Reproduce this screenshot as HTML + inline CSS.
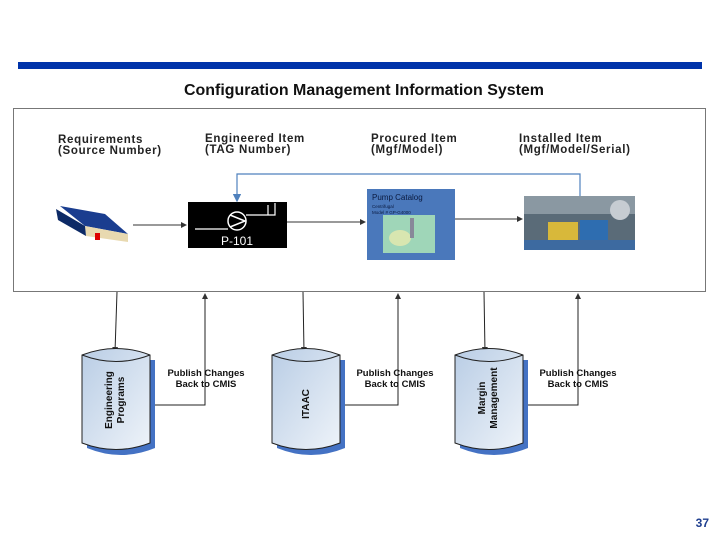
<!DOCTYPE html>
<html><head><style>
body{margin:0;width:720px;height:540px;background:#fff;overflow:hidden;font-family:"Liberation Sans",sans-serif}
</style></head><body>
<svg width="720" height="540" viewBox="0 0 720 540" xmlns="http://www.w3.org/2000/svg" font-family="Liberation Sans, sans-serif">
<defs>
<marker id="a" markerWidth="6" markerHeight="6" refX="5" refY="3" orient="auto"><path d="M0,0 L6,3 L0,6 z" fill="#333"/></marker>
<marker id="b" markerWidth="7" markerHeight="7" refX="5" refY="3.5" orient="auto"><path d="M0,0 L7,3.5 L0,7 z" fill="#4f81bd"/></marker>
<linearGradient id="cg" x1="0" y1="0" x2="1" y2="1"><stop offset="0" stop-color="#b9cde5"/><stop offset="1" stop-color="#eef3f9"/></linearGradient>
</defs>
<rect x="18" y="62" width="684" height="7" fill="#0033aa"/>
<text x="364" y="95" text-anchor="middle" font-size="15.5" font-weight="bold" fill="#111" textLength="360" lengthAdjust="spacingAndGlyphs">Configuration Management Information System</text>
<rect x="13.5" y="108.5" width="692" height="183" fill="#fff" stroke="#777" stroke-width="1"/>
<g font-size="11.5" font-weight="bold" fill="#222" letter-spacing="0.7">
<text x="58" y="143">Requirements</text><text x="58" y="154">(Source Number)</text>
<text x="205" y="142">Engineered Item</text><text x="205" y="153">(TAG Number)</text>
<text x="371" y="142">Procured Item</text><text x="371" y="153">(Mgf/Model)</text>
<text x="519" y="142">Installed Item</text><text x="519" y="153">(Mgf/Model/Serial)</text>
</g>
<!-- book -->
<g>
<polygon points="60,206 105,214 128,234 85,226" fill="#1a3d8f"/>
<polygon points="85,226 128,234 128,242 86,236" fill="#e8d9b0"/>
<polygon points="56,209 85,226 86,236 58,220" fill="#0d2a66"/>
<rect x="95" y="233" width="5" height="7" fill="#d00"/>
</g>
<!-- P-101 -->
<rect x="188" y="202" width="99" height="46" fill="#000"/>
<circle cx="237" cy="221" r="9" fill="none" stroke="#fff" stroke-width="1.5"/>
<path d="M230,215 L245,221 L230,227" fill="none" stroke="#fff" stroke-width="1.5"/>
<path d="M195,229 L228,229 M246,215 L268,215 L268,205 M268,215 L275,215 L275,203" stroke="#fff" fill="none" stroke-width="1.2"/>
<text x="237" y="245" text-anchor="middle" font-size="12" fill="#fff">P-101</text>
<!-- catalog -->
<rect x="367" y="189" width="88" height="71" fill="#4a78bb"/>
<text x="372" y="200" font-size="8" fill="#0a1a40">Pump Catalog</text>
<text x="372" y="208" font-size="4.5" fill="#0a1a40">Centrifugal</text>
<text x="372" y="214" font-size="4.5" fill="#0a1a40">Model # GP-G4000</text>
<rect x="383" y="215" width="52" height="38" fill="#9fd6b8"/>
<ellipse cx="400" cy="238" rx="11" ry="8" fill="#d8e6b0"/>
<rect x="410" y="218" width="4" height="20" fill="#889"/>
<!-- photo -->
<rect x="524" y="196" width="111" height="54" fill="#5a6b78"/>
<rect x="524" y="196" width="111" height="18" fill="#8a98a2"/>
<rect x="548" y="222" width="30" height="18" fill="#d8b83a"/>
<rect x="580" y="220" width="28" height="20" fill="#2e6db0"/>
<circle cx="620" cy="210" r="10" fill="#c6ccd2"/>
<rect x="524" y="240" width="111" height="10" fill="#3d6aa0"/>
<!-- arrows top -->
<g stroke="#333" stroke-width="1" fill="none">
<line x1="133" y1="225" x2="186" y2="225" marker-end="url(#a)"/>
<line x1="287" y1="222" x2="365" y2="222" marker-end="url(#a)"/>
<line x1="455" y1="219" x2="522" y2="219" marker-end="url(#a)"/>
</g>
<path d="M580,196 L580,174 L237,174 L237,200" fill="none" stroke="#4f81bd" stroke-width="1.2" marker-end="url(#b)"/>
<!-- bottom connectors -->
<g stroke="#222" stroke-width="1" fill="none">
<line x1="117" y1="292" x2="115" y2="352" marker-end="url(#a)"/>
<path d="M150,405 L205,405 L205,294" marker-end="url(#a)"/>
<line x1="303" y1="292" x2="304" y2="352" marker-end="url(#a)"/>
<path d="M340,405 L398,405 L398,294" marker-end="url(#a)"/>
<line x1="484" y1="292" x2="485" y2="352" marker-end="url(#a)"/>
<path d="M523,405 L578,405 L578,294" marker-end="url(#a)"/>
</g>
<g>
<path d="M87,360 L155,360 L155,448 Q121,462 87,448 Z" fill="#4472c4"/>
<path d="M82,355 Q116,342 150,355 L150,443 Q116,456 82,443 Z" fill="url(#cg)" stroke="#222" stroke-width="1"/>
<path d="M82,355 Q116,368 150,355" fill="none" stroke="#222"/>
<text transform="translate(112,400) rotate(-90)" text-anchor="middle" font-size="10" font-weight="bold" fill="#111">Engineering</text>
<text transform="translate(124,400) rotate(-90)" text-anchor="middle" font-size="10" font-weight="bold" fill="#111">Programs</text>
</g>
<g>
<path d="M277,360 L345,360 L345,448 Q311,462 277,448 Z" fill="#4472c4"/>
<path d="M272,355 Q306,342 340,355 L340,443 Q306,456 272,443 Z" fill="url(#cg)" stroke="#222" stroke-width="1"/>
<path d="M272,355 Q306,368 340,355" fill="none" stroke="#222"/>
<text transform="translate(309,404) rotate(-90)" text-anchor="middle" font-size="10" font-weight="bold" fill="#111">ITAAC</text>
</g>
<g>
<path d="M460,360 L528,360 L528,448 Q494,462 460,448 Z" fill="#4472c4"/>
<path d="M455,355 Q489,342 523,355 L523,443 Q489,456 455,443 Z" fill="url(#cg)" stroke="#222" stroke-width="1"/>
<path d="M455,355 Q489,368 523,355" fill="none" stroke="#222"/>
<text transform="translate(485,398) rotate(-90)" text-anchor="middle" font-size="10" font-weight="bold" fill="#111">Margin</text>
<text transform="translate(497,398) rotate(-90)" text-anchor="middle" font-size="10" font-weight="bold" fill="#111">Management</text>
</g>
<g font-size="9.5" font-weight="bold" fill="#111" text-anchor="middle">
<text x="206" y="376">Publish Changes</text><text x="206" y="387">Back to CMIS</text>
<text x="395" y="376">Publish Changes</text><text x="395" y="387">Back to CMIS</text>
<text x="578" y="376">Publish Changes</text><text x="578" y="387">Back to CMIS</text>
</g>
<text x="709" y="527" text-anchor="end" font-size="12" font-weight="bold" fill="#1f3f8f">37</text>
</svg>
</body></html>
